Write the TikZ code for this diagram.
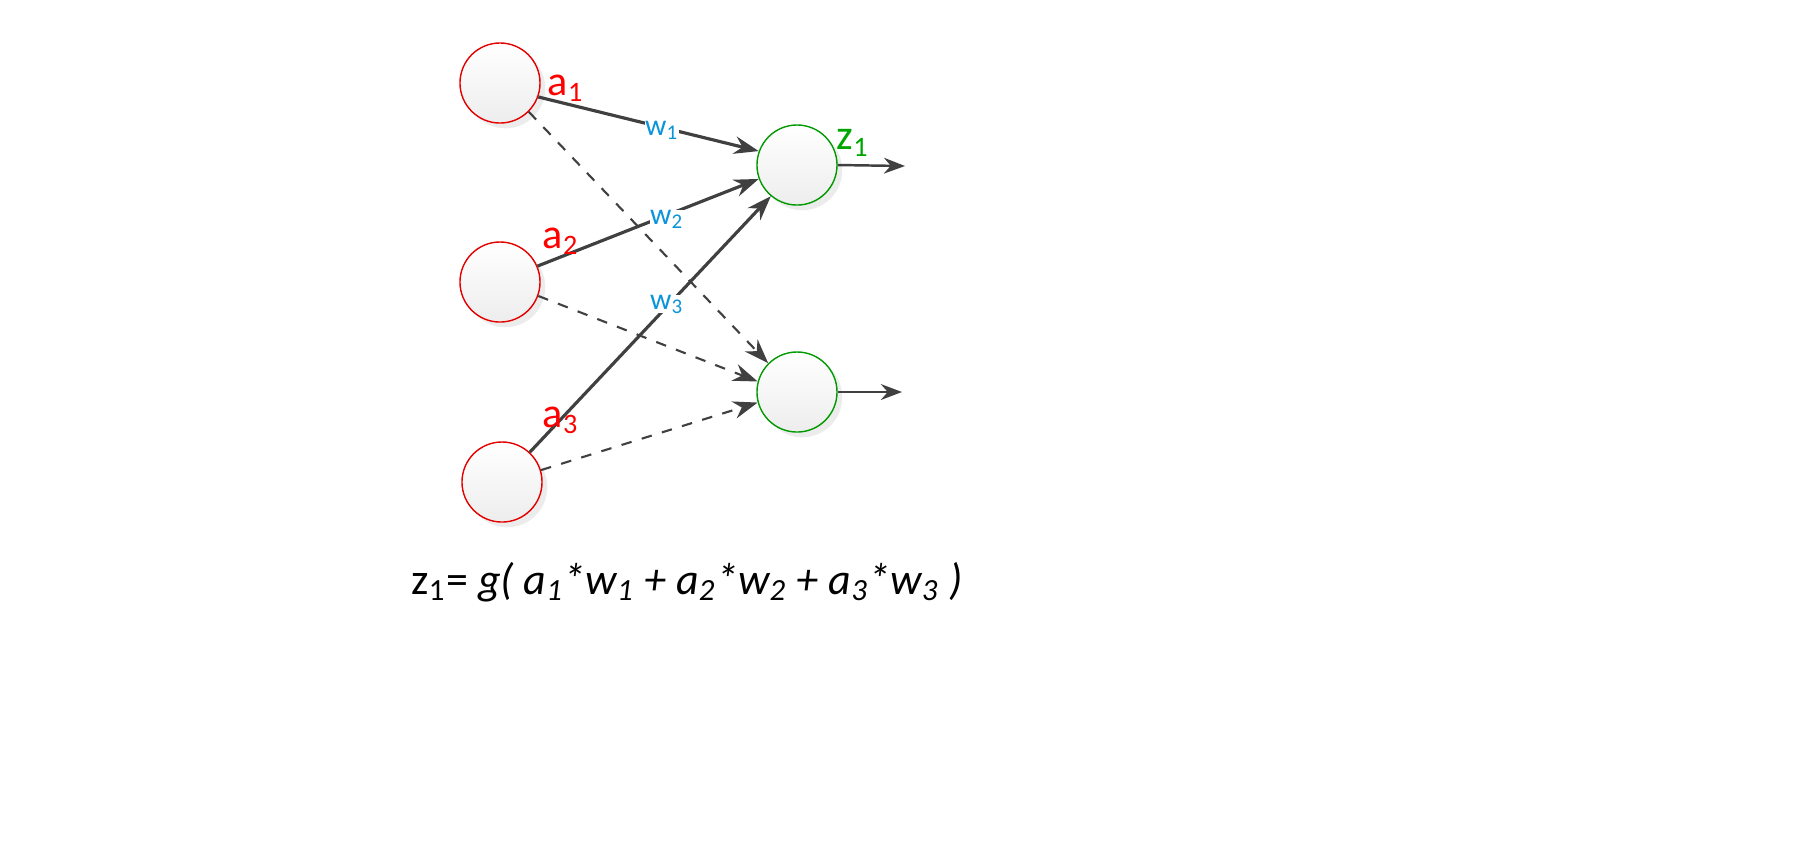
\documentclass[tikz,border=0pt]{standalone}
\usepackage{fontspec}
\setmainfont{Carlito}
\usetikzlibrary{arrows.meta,shadows}
\begin{document}
\begin{tikzpicture}[x=0.01cm,y=-0.01cm,
 neuron/.style={circle,minimum size=0.8cm,inner sep=0pt,top color=white,bottom color=black!7,drop shadow={opacity=0.15,shadow xshift=1.5pt,shadow yshift=-1.5pt}},
 inneuron/.style={neuron,draw=red!90!black,line width=0.4pt},
 outneuron/.style={neuron,draw=green!60!black,line width=0.4pt},
 edge/.style={draw=black!75,line width=0.9pt,-{Stealth[length=7pt,width=5pt]}},
 dedge/.style={draw=black!75,line width=0.6pt,dashed,-{Stealth[length=7pt,width=5pt]}},
 alab/.style={text=red,font=\fontsize{12}{14}\selectfont},
 wlab/.style={text=cyan!80!blue,font=\fontsize{8.5}{10}\selectfont,inner sep=0pt}]
\useasboundingbox (0,0) rectangle (1799,847);
\node[inneuron] (a1) at (500,83) {};
\node[inneuron] (a2) at (500,282) {};
\node[inneuron] (a3) at (502,482) {};
\node[outneuron] (z1) at (797,165) {};
\node[outneuron] (z2) at (797,392) {};
\coordinate (o1) at (905,166);
\coordinate (o2) at (902,392);
\draw[edge] (a1.-20) -- (z1.160);
\draw[dedge] (a1.-45) -- (z2.135);
\draw[edge] (a2.23) -- (z1.-160);
\draw[dedge] (a2.-20) -- (z2.165);
\draw[edge] (a3.47) -- (z1.-130);
\draw[dedge] (a3.17) -- (z2.-165);
\draw[draw=black!75,line width=0.7pt,-{Stealth[length=6pt,width=4.5pt]}] (z1.east) -- (o1);
\draw[draw=black!75,line width=0.7pt,-{Stealth[length=6pt,width=4.5pt]}] (z2.east) -- (o2);
\node[alab] (la1) at (566,88) {a\textsubscript{1}};
\node[alab] (la2) at (561,241) {a\textsubscript{2}};
\node[alab] (la3) at (561,420) {a\textsubscript{3}};
\node[alab,text=green!65!black] (lz1) at (853,143) {z\textsubscript{1}};
\node[wlab,fill=white] (w1) at (662,130) {w\textsubscript{1}};
\node[wlab,fill=white] (w2) at (667,219) {w\textsubscript{2}};
\node[wlab,fill=white] (w3) at (667,304) {w\textsubscript{3}};
\node[font=\fontsize{12.5}{14}\selectfont] (f) at (687,582) {z\textsubscript{1}= \textit{g( a\textsubscript{1}*w\textsubscript{1} + a\textsubscript{2}*w\textsubscript{2} + a\textsubscript{3}*w\textsubscript{3} )}};
\end{tikzpicture}
\end{document}
